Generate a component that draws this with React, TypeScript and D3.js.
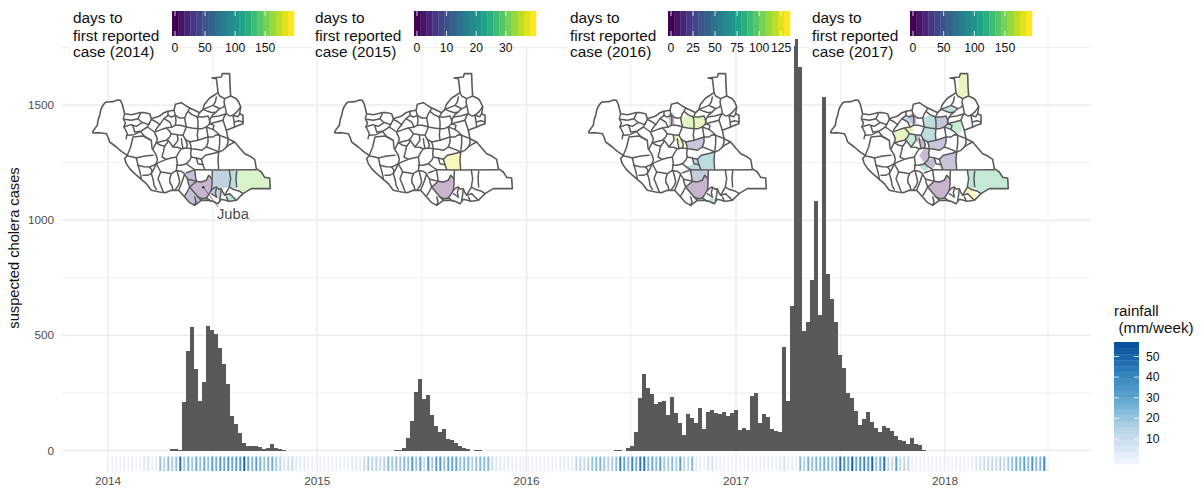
import React from "react";
import * as d3 from "d3";

// ---------- weekly suspected cases: weeks counted from the start of 2014
const cases2014Start = 15;
const cases2014 = [5, 5, 2, 210, 431, 535, 353, 215, 296, 539, 522, 505, 445, 375, 288, 149, 114, 75, 32, 20, 20, 20, 16, 7, 10, 27, 12, 7, 3];
const cases2015Start = 71;
const cases2015 = [4, 1, 10, 53, 127, 253, 309, 223, 240, 153, 105, 82, 92, 49, 45, 32, 19, 10, 6, 0, 1, 4];
const cases2016Start = 126;
const cases2016 = [1, 1, 0, 10, 19, 80, 227, 331, 270, 244, 201, 210, 214, 153, 231, 162, 119, 67, 158, 140, 119, 184, 93, 166, 175, 162, 158, 166, 149, 162, 175, 88, 97, 88, 236, 249, 119, 158, 145, 93, 84, 80, 448, 214, 626, 1785, 1663, 518, 557, 739, 1082, 587, 1533, 765, 657, 557, 414, 357, 249, 227, 171, 110, 136, 166, 123, 97, 80, 106, 97, 84, 62, 45, 40, 27, 53, 27, 23, 1];

// ---------- weekly rainfall, mm/week, one per week from the start of 2014
const rainfall = [
  1, 1, 1, 1, 2, 1, 2, 1, 1, 6, 8, 2, 3, 22, 16, 24, 18, 22, 50, 20, 26, 20, 30, 22, 30, 22, 34, 28, 36, 30, 36, 30, 34, 36, 54, 30, 26, 34, 28, 22, 26, 30, 20, 16, 8, 10, 12, 4, 3, 4, 2, 1, 1,
  1, 1, 1, 1, 2, 2, 2, 2, 4, 4, 3, 12, 18, 14, 16, 12, 16, 24, 20, 22, 20, 24, 22, 36, 22, 32,
  12, 38, 20, 34, 36, 22, 32, 32, 32, 22, 24, 26, 18, 22, 26, 24, 26, 10, 6, 5, 3, 4, 2, 2, 1, 1,
  1, 1, 1, 1, 1, 1, 2, 1, 4, 3, 4, 3, 14, 14, 12, 16, 22, 24, 26, 20, 16, 18, 22, 44, 32, 24, 42, 28, 46, 48, 26, 30, 24, 34, 20, 18, 24, 18, 34, 16, 14, 26, 4, 3, 2, 8, 8, 2, 2, 1, 1, 1, 1, 1,
  1, 2, 1, 1, 2, 2, 3, 2, 2, 5, 8, 2, 3, 2, 24, 16, 28, 22, 26, 24, 28, 26, 24, 26, 50, 38, 30, 56, 30, 38, 42, 34, 54, 22, 30, 50, 14, 12, 34, 12, 14, 14, 2, 1, 1, 1, 2, 1, 1, 1, 1, 1, 1, 2, 2, 1, 1, 2, 6, 8, 10, 12, 14, 12, 16, 12, 18, 22, 28, 26, 34, 24, 38, 24, 26, 42,
];

const yTicks = [0, 500, 1000, 1500];
const yMinor = [250, 750, 1250, 1750];
const yearLabels = ["2014", "2015", "2016", "2017", "2018"];
const yearWeeks = [0, 52.32, 104.65, 157, 209.25];
const minorWeeks = [26.16, 78.5, 130.8, 183.1, 235];

// ---------- South Sudan outline and county boundaries (map units)
type P = [number, number];
const outline: P[] = [[14, 180], [20, 170], [28, 160], [30, 145], [35, 130], [38, 115], [42, 105], [50, 93], [55, 90], [75, 89], [88, 84], [97, 85], [102, 95], [105, 105], [108, 118], [110, 125], [130, 128], [155, 122], [170, 122], [185, 125], [190, 140], [215, 132], [228, 122], [240, 118], [258, 115], [262, 97], [280, 92], [292, 100], [305, 108], [320, 115], [335, 122], [345, 112], [348, 100], [355, 90], [365, 78], [375, 72], [390, 62], [388, 42], [385, 20], [372, 18], [400, 15], [403, 5], [425, 5], [426, 40], [428, 72], [445, 80], [452, 90], [458, 105], [455, 125], [465, 130], [465, 155], [452, 160], [440, 165], [415, 175], [420, 200], [440, 210], [455, 228], [470, 245], [485, 252], [500, 262], [505, 290], [520, 300], [530, 316], [545, 318], [547, 350], [490, 350], [465, 365], [455, 375], [445, 385], [425, 388], [400, 382], [390, 395], [375, 388], [360, 385], [340, 385], [320, 400], [305, 392], [290, 375], [272, 355], [250, 355], [232, 362], [215, 360], [190, 355], [175, 335], [160, 322], [140, 305], [125, 290], [115, 275], [110, 260], [118, 250], [100, 238], [85, 225], [65, 210], [60, 195], [55, 185], [35, 182], [15, 183]];

const boundaries: P[][] = [
  // upper Nile
  [[345, 112], [360, 106], [375, 100], [382, 90], [385, 75]], [[375, 100], [385, 105], [395, 110], [405, 106], [410, 100], [408, 90], [410, 80], [428, 72]], [[395, 110], [388, 116], [385, 120], [372, 122], [360, 118], [345, 112]], [[385, 120], [375, 128], [370, 135], [365, 145], [365, 155]], [[410, 100], [413, 112], [415, 125], [425, 132], [435, 130], [448, 118], [458, 105]], [[415, 125], [408, 135], [405, 145], [410, 160], [415, 175]], [[435, 130], [438, 148], [440, 165]], [[440, 150], [452, 146], [465, 150]], [[365, 155], [385, 150], [405, 145]], [[370, 135], [392, 132], [415, 125]], [[435, 130], [450, 134], [455, 125]], [[390, 62], [395, 72], [410, 80]],
  // north centre
  [[258, 115], [262, 130], [275, 138], [290, 138], [295, 125], [300, 118], [305, 108]], [[290, 138], [292, 150], [295, 165], [312, 168], [330, 170], [330, 150], [328, 135], [312, 128], [300, 118]], [[328, 135], [345, 135], [360, 132], [365, 145], [365, 155], [355, 165], [342, 170], [330, 170]], [[335, 122], [328, 135]], [[285, 190], [292, 202], [305, 210], [330, 205], [360, 195], [358, 180], [355, 165]], [[330, 170], [328, 188], [330, 205]], [[305, 210], [308, 220], [310, 230], [325, 232], [340, 235], [355, 225], [360, 210], [360, 195]],
  // north-west
  [[110, 125], [106, 140], [112, 152], [108, 165], [118, 185], [114, 200]], [[110, 142], [130, 145], [150, 140], [157, 125]], [[150, 140], [160, 150], [182, 158], [190, 142]], [[108, 165], [128, 158], [145, 163], [162, 152]], [[135, 163], [140, 180], [158, 178], [168, 192]], [[118, 190], [138, 188], [158, 178], [178, 165], [182, 158]], [[118, 250], [128, 225], [135, 195], [165, 192], [190, 205], [192, 228], [205, 250]], [[168, 192], [190, 205]], [[178, 165], [200, 180]], [[190, 142], [205, 150], [215, 158], [228, 140], [240, 130], [240, 118]], [[215, 158], [205, 170], [200, 182], [208, 200], [205, 212], [195, 230]], [[240, 130], [250, 135], [262, 130]], [[205, 178], [222, 172], [235, 168], [252, 165], [262, 160], [264, 145], [262, 130]], [[205, 212], [222, 208], [235, 205], [245, 195], [250, 185], [242, 175], [235, 168]], [[262, 160], [278, 160], [295, 165], [290, 178], [285, 190], [268, 188], [250, 185]], [[228, 140], [245, 150], [252, 165]],
  // Jonglei
  [[355, 225], [375, 232], [392, 240], [405, 235], [415, 225], [425, 218], [440, 210]], [[360, 195], [375, 195], [385, 188], [395, 190], [408, 195], [420, 200]], [[395, 190], [395, 215], [392, 240]], [[355, 165], [368, 170], [375, 172], [385, 180], [395, 190]], [[365, 155], [378, 160], [375, 172]], [[415, 225], [420, 212], [420, 200]], [[340, 262], [352, 250], [372, 245], [392, 240], [390, 265], [392, 292]], [[340, 262], [345, 278], [350, 292]],
  // Lakes, Warrap
  [[205, 212], [218, 220], [230, 222], [238, 212], [240, 205]], [[230, 222], [226, 240], [222, 255], [235, 262], [220, 268], [205, 275]], [[235, 262], [250, 258], [265, 255], [272, 242], [280, 230], [268, 226], [255, 225], [248, 215], [240, 205]], [[280, 230], [295, 228], [310, 230]], [[280, 200], [282, 215], [285, 230]], [[268, 188], [270, 205], [255, 225]], [[292, 202], [298, 218], [295, 228]], [[265, 255], [268, 275], [265, 295]], [[265, 280], [280, 280], [295, 275], [305, 265], [310, 255]], [[295, 275], [308, 285], [320, 293]], [[310, 230], [308, 245], [310, 255], [325, 258], [340, 262]], [[325, 258], [330, 275], [345, 278]],
  // western Equatoria
  [[118, 252], [132, 254], [145, 258], [170, 252], [195, 250]], [[145, 258], [148, 270], [150, 280], [168, 284], [185, 285], [196, 280], [205, 275], [208, 262], [205, 250]], [[150, 280], [156, 300], [160, 320]], [[185, 285], [192, 295], [190, 305], [178, 310], [165, 310]], [[205, 275], [198, 290], [190, 305], [196, 325], [198, 340], [205, 352]], [[205, 275], [212, 288], [218, 300], [214, 310], [210, 320], [218, 340], [225, 358]], [[218, 300], [235, 302], [250, 305], [246, 318], [245, 330], [252, 342], [255, 355]], [[250, 305], [260, 298], [268, 296], [280, 298], [290, 305], [282, 330], [272, 355]], [[268, 300], [272, 315], [275, 330], [270, 342], [262, 353]], [[290, 308], [298, 320], [300, 330], [305, 345]], [[296, 302], [308, 298], [320, 293]],
  // southern belt
  [[320, 293], [390, 294], [505, 293]], [[320, 293], [322, 310], [325, 328]], [[300, 322], [325, 328]], [[305, 345], [325, 328], [340, 330], [355, 325], [362, 310], [372, 320], [372, 338], [370, 355], [362, 368], [355, 378], [342, 380], [330, 375], [305, 345]],
  [[373, 296], [372, 320]], [[424, 295], [428, 320], [424, 345]], [[446, 298], [444, 320], [446, 345]], [[370, 355], [378, 348], [385, 345], [393, 352], [400, 350], [405, 362], [410, 370], [418, 355], [425, 345], [435, 352], [445, 355], [455, 358], [465, 365]], [[400, 350], [398, 368], [395, 385]], [[425, 365], [435, 375], [445, 385]], [[385, 350], [382, 362], [385, 375]], [[415, 375], [418, 380], [420, 388]], [[410, 370], [425, 365]], [[290, 372], [298, 358], [305, 345]], [[320, 375], [324, 388], [320, 400]], [[340, 385], [335, 380], [330, 375]], [[355, 378], [362, 382], [370, 388]], [[370, 365], [385, 375]],
];

// ---------- affected counties per year: [days to first case, polygon]
type County = [number, P[]];
const juba: P[] = [[305, 345], [325, 328], [340, 330], [355, 325], [362, 310], [372, 320], [372, 338], [370, 355], [362, 368], [355, 378], [342, 380], [330, 375]];
const kapoeta: P[] = [[446, 298], [505, 293], [520, 300], [530, 316], [545, 318], [547, 350], [490, 350], [465, 365], [455, 358], [446, 345]];
const counties2014: County[] = [
  [0, juba], [25, [[272, 355], [290, 372], [305, 345], [330, 375], [340, 385], [320, 400], [305, 392], [290, 375]]], [25, [[296, 302], [320, 293], [325, 328], [305, 345], [300, 330], [290, 308]]],
  [65, [[373, 296], [424, 295], [428, 320], [424, 345], [400, 350], [385, 345], [370, 355], [372, 320]]], [100, [[424, 295], [446, 298], [444, 320], [446, 345], [435, 352], [424, 345], [428, 320]]],
  [40, [[340, 385], [330, 375], [342, 380], [355, 378], [370, 388], [360, 385]]], [70, [[370, 355], [385, 345], [385, 375], [370, 365]]], [60, [[385, 350], [400, 350], [398, 368], [395, 385], [385, 375]]], [110, [[415, 375], [425, 365], [445, 385], [425, 388], [420, 388]]], [160, kapoeta],
];
const counties2015: County[] = [[0, juba], [39, [[340, 262], [352, 250], [372, 245], [392, 240], [390, 265], [392, 292], [350, 292], [345, 278]]], [28, [[330, 375], [342, 380], [355, 378], [360, 385], [340, 385]]]];
const counties2016: County[] = [
  [5, [[253, 124], [268, 122], [273, 159], [256, 156]]], [115, [[292, 137], [312, 128], [328, 135], [330, 150], [330, 170], [295, 165], [292, 150]]], [120, [[328, 135], [360, 132], [365, 145], [365, 155], [355, 165], [330, 170], [330, 150]]], [118, [[268, 188], [285, 190], [280, 200], [282, 215], [270, 205]]], [130, [[280, 200], [292, 202], [298, 218], [295, 228], [285, 230], [282, 215]]], [28, [[305, 210], [330, 205], [360, 195], [360, 210], [355, 225], [340, 235], [325, 232], [310, 230], [308, 220]]],
  [65, [[352, 250], [372, 245], [392, 240], [390, 265], [392, 292], [350, 292], [345, 278], [340, 262]]], [65, [[325, 258], [340, 262], [345, 278], [350, 292], [320, 293], [308, 285], [330, 275]]], [35, [[295, 275], [308, 285], [320, 293], [373, 296], [372, 320], [362, 310], [355, 325], [325, 328], [322, 310]]], [0, juba], [70, [[360, 385], [370, 388], [385, 375], [395, 385], [390, 395], [375, 388]]],
];
const counties2017: County[] = [
  [170, [[403, 5], [425, 5], [426, 40], [428, 72], [410, 80], [395, 72], [400, 15]]], [95, [[345, 112], [360, 106], [375, 100], [385, 105], [385, 120], [372, 122], [360, 118]]], [5, [[252, 126], [267, 124], [272, 156], [254, 154]]], [90, [[228, 140], [252, 129], [254, 154], [252, 165], [245, 150]]], [90, [[292, 137], [312, 128], [328, 135], [330, 150], [330, 170], [295, 165], [292, 150]]], [35, [[328, 135], [360, 132], [365, 145], [365, 155], [355, 165], [330, 170], [330, 150]]],
  [135, [[355, 165], [365, 155], [385, 150], [405, 145], [408, 178], [395, 190], [385, 180], [375, 172], [368, 170]]], [95, [[295, 165], [330, 170], [328, 188], [330, 205], [305, 210], [292, 202], [285, 190], [290, 178]]], [35, [[305, 210], [330, 205], [360, 195], [360, 210], [355, 225], [340, 235], [325, 232], [310, 230], [308, 220]]], [170, [[222, 172], [235, 168], [252, 165], [262, 160], [262, 180], [250, 185], [245, 195], [235, 205], [205, 212], [208, 200], [205, 178]]], [130, [[235, 205], [245, 195], [250, 185], [268, 188], [270, 205], [255, 225], [248, 215]]],
  [5, [[268, 188], [285, 190], [280, 200], [282, 215], [270, 205]]], [10, [[280, 200], [292, 202], [298, 218], [295, 228], [285, 230], [282, 215]]], [10, [[295, 228], [310, 230], [308, 245], [310, 255], [305, 265], [295, 275], [280, 250]]], [10, [[305, 265], [325, 258], [330, 275], [320, 293], [308, 285], [295, 275]]], [30, [[340, 262], [352, 250], [372, 245], [392, 240], [390, 265], [392, 292], [350, 292], [345, 278]]], [100, [[280, 280], [295, 275], [308, 285], [300, 298], [285, 290]]],
  [0, juba], [115, [[424, 295], [446, 298], [444, 320], [446, 345], [435, 352], [424, 345], [428, 320]]], [130, kapoeta], [190, [[418, 355], [425, 345], [435, 352], [455, 375], [445, 385], [425, 365]]],
];

// ---------- legends
const legendYears = ["2014", "2015", "2016", "2017"];
const legendDomains: P[] = [[-5, 198], [-1, 40.2], [-3.4, 135], [-4.9, 194]];
const legendTicks = [[0, 50, 100, 150], [0, 10, 20, 30], [0, 25, 50, 75, 100, 125], [0, 50, 100, 150]];
const yearCounties = [counties2014, counties2015, counties2016, counties2017];
const rainTicks = [10, 20, 30, 40, 50];

// ---------- layout
const legendLeft = [172, 414, 668, 910];
const titleLeft = [73, 315, 570, 812];
const mapShift = [88, 330, 584, 826];
const panel = { left: 62, right: 1091, top: 19, bottom: 472 };
const ink = "#4D4D4D";
const mapInk = "#5a5a5a";
const font = "'Liberation Sans', Arial, Helvetica, sans-serif";

const x = d3.scaleLinear().domain([0, 209.25]).range([108, 945]);
const y = d3.scaleLinear().domain([0, 1500]).range([450.5, 105]);
const barWidth = x(1) - x(0);
const rainColor = d3.piecewise(d3.interpolateRgb, ["#EFF3FF", "#BDD7E7", "#6BAED6", "#3182BD", "#08519C"]);
const rainScale = d3.scaleLinear().domain([0, 59]).range([0, 1]);
const line = d3.line();

function Bars({ start, values }: { start: number; values: number[] }) {
  return (
    <g fill="#595959" shapeRendering="crispEdges">
      {values.map((v, i) =>
        v > 0 ? <rect key={i} x={x(start + i + 0.5)} y={y(v)} width={barWidth} height={y(0) - y(v)} /> : null
      )}
    </g>
  );
}

function SSMap({ index }: { index: number }) {
  const mx = d3.scaleLinear().domain([0, 3]).range([mapShift[index], mapShift[index] + 1]);
  const my = d3.scaleLinear().domain([0, 3]).range([72, 73]);
  const path = (pts: P[], close: boolean) => {
    const d = line(pts.map((p) => [mx(p[0]), my(p[1])] as P)) as string;
    return close ? d + "Z" : d;
  };
  const [d0, d1] = legendDomains[index];
  const t = d3.scaleLinear().domain([d0, d1]).range([0, 1]);
  return (
    <g>
      <path d={path(outline, true)} fill="#fff" />
      {yearCounties[index].map(([v, pts], i) => (
        <path key={i} d={path(pts, true)} fill={d3.interpolateViridis(t(v))} fillOpacity={0.3} />
      ))}
      {boundaries.map((b, i) => (
        <path key={i} d={path(b, false)} fill="none" stroke={mapInk} strokeWidth={1.5} strokeLinejoin="round" strokeLinecap="round" />
      ))}
      <path d={path(outline, true)} fill="none" stroke={mapInk} strokeWidth={1.6} strokeLinejoin="round" />
    </g>
  );
}

function ColorLegend({ index }: { index: number }) {
  const left = legendLeft[index];
  const width = 122;
  const bins = d3.range(20);
  const [d0, d1] = legendDomains[index];
  const s = d3.scaleLinear().domain([d0, d1]).range([left, left + width]);
  const tl = titleLeft[index];
  return (
    <g>
      <rect x={tl - 3} y={0} width={left - tl + 3} height={60} fill="#fff" />
      <rect x={left - 3} y={0} width={width + 8} height={46} fill="#fff" />
      <g fontSize={15.4} fill="#111">
        <text x={tl} y={23}>days to</text>
        <text x={tl} y={40.5}>first reported</text>
        <text x={tl} y={57}>case ({legendYears[index]})</text>
      </g>
      {bins.map((b) => (
        <rect key={b} x={left + (b * width) / 20} y={11} width={width / 20 + 0.3} height={25} fill={d3.interpolateViridis(b / 19)} />
      ))}
      {legendTicks[index].map((v) => (
        <g key={v}>
          <line x1={s(v)} x2={s(v)} y1={11} y2={16} stroke="#fff" strokeWidth={0.8} />
          <line x1={s(v)} x2={s(v)} y1={31} y2={36} stroke="#fff" strokeWidth={0.8} />
          <text x={s(v)} y={52} fontSize={12.2} textAnchor="middle" fill="#111">{v}</text>
        </g>
      ))}
    </g>
  );
}

function RainLegend() {
  const s = d3.scaleLinear().domain([50, 10]).range([356.5, 439]);
  const bins = d3.range(20);
  const top = 342;
  const height = 122;
  return (
    <g>
      <text x={1114} y={316} fontSize={15.2} fill="#111">rainfall</text>
      <text x={1118.5} y={332.5} fontSize={15.2} fill="#111">(mm/week)</text>
      {bins.map((b) => (
        <rect key={b} x={1114} y={top + ((19 - b) * height) / 20} width={25} height={height / 20 + 0.3} fill={rainColor(b / 19)} />
      ))}
      {rainTicks.map((v) => (
        <g key={v}>
          <line x1={1114} x2={1119} y1={s(v)} y2={s(v)} stroke="#fff" strokeWidth={0.8} />
          <line x1={1134} x2={1139} y1={s(v)} y2={s(v)} stroke="#fff" strokeWidth={0.8} />
          <text x={1146} y={s(v) + 4} fontSize={12.2} fill="#111">{v}</text>
        </g>
      ))}
    </g>
  );
}

export default function App() {
  return (
    <svg width={1204} height={492} viewBox="0 0 1204 492" fontFamily={font} style={{ position: "absolute", left: 0, top: 0, display: "block" }}>
      <rect width={1204} height={492} fill="#fff" />
      <g>
        {yMinor.map((v) => <line key={v} x1={panel.left} x2={panel.right} y1={y(v)} y2={y(v)} strokeWidth={1} stroke="#EFEFEF" />)}
        {minorWeeks.map((w) => <line key={w} x1={x(w)} x2={x(w)} y1={panel.top} y2={panel.bottom} strokeWidth={1} stroke="#EFEFEF" />)}
        {yTicks.map((v) => <line key={v} x1={panel.left} x2={panel.right} y1={y(v)} y2={y(v)} strokeWidth={1.5} stroke="#ECECEC" />)}
        {yearWeeks.map((w) => <line key={w} x1={x(w)} x2={x(w)} y1={panel.top} y2={panel.bottom} strokeWidth={1.5} stroke="#ECECEC" />)}
      </g>
      <Bars start={cases2014Start} values={cases2014} />
      <Bars start={cases2015Start} values={cases2015} />
      <Bars start={cases2016Start} values={cases2016} />
      <g>
        {rainfall.map((v, i) => (
          <rect key={i} x={x(i) - 0.7} y={456.5} width={2} height={14.5} fill={rainColor(rainScale(v))} />
        ))}
      </g>
      {yTicks.map((v) => (
        <text key={v} x={54} y={y(v) + 4} fontSize={11.73} textAnchor="end" fill={ink}>{v}</text>
      ))}
      {yearLabels.map((l, i) => (
        <text key={l} x={x(yearWeeks[i])} y={485} fontSize={11.73} textAnchor="middle" fill={ink}>{l}</text>
      ))}
      <text transform="translate(19,248) rotate(-90)" fontSize={14.67} textAnchor="middle" fill="#111">suspected cholera cases</text>
      {legendYears.map((_, i) => <SSMap key={i} index={i} />)}
      {legendYears.map((_, i) => <ColorLegend key={i} index={i} />)}
      <line x1={203.3} y1={187.3} x2={218} y2={207} stroke={ink} strokeWidth={0.7} />
      <circle cx={203.3} cy={187.3} r={1.2} fill="#333" />
      <text x={217} y={218.5} fontSize={14.67} fill={ink}>Juba</text>
      <RainLegend />
    </svg>
  );
}
